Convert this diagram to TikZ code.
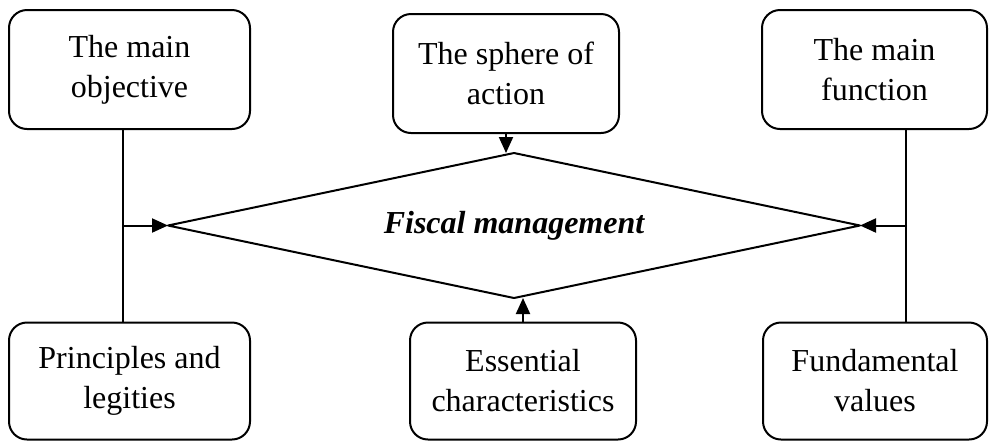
\documentclass[tikz,border=0pt]{standalone}
\usepackage{fontspec}
\setmainfont{Liberation Serif}
\usetikzlibrary{arrows.meta,shapes.geometric}

\begin{document}
\begin{tikzpicture}[line cap=round,line join=round,>={Triangle[length=8pt,width=7pt]},x=0.5pt,y=-0.5pt,
  rbox/.style={draw,line width=1.pt,rounded corners=9pt,align=center,inner sep=0pt,font=\fontsize{16}{20}\selectfont}]
\useasboundingbox (0,0) rectangle (989,441);
\node[rbox,minimum width=120.5pt,minimum height=59.5pt] (obj) at (129.5,69.5) {The main\\objective};
\node[rbox,minimum width=113pt,minimum height=59.5pt] (sphere) at (506,73.5) {The sphere of\\action};
\node[rbox,minimum width=112.5pt,minimum height=59.5pt] (func) at (874.5,69.5) {The main\\function};
\node[rbox,minimum width=120.5pt,minimum height=58.5pt] (princ) at (129.5,381) {Principles and\\legities};
\node[rbox,minimum width=113pt,minimum height=58.5pt] (essent) at (523,381) {Essential\\characteristics};
\node[rbox,minimum width=112pt,minimum height=58.5pt] (fund) at (875,381) {Fundamental\\values};
\node[draw,line width=1.pt,shape=diamond,aspect=4.77,minimum width=346pt,minimum height=72.5pt,inner sep=0pt,outer sep=0pt,font=\fontsize{16}{20}\selectfont\bfseries\itshape] (fiscal) at (514,225.5) {Fiscal management};
\coordinate (jl) at (123,225.5);
\coordinate (jr) at (906,225.5);
% left side
\draw [line width=1.pt] (jl |- obj.south)-- (jl |- princ.north);
\draw [->,line width=1.pt] (jl)-- (fiscal.west);
% right side
\draw [line width=1.pt] (jr |- func.south)-- (jr |- fund.north);
\draw [->,line width=1.pt] (jr)-- (fiscal.east);
% middle
\draw [->,line width=1.pt] (sphere.south)-- (sphere.south |- fiscal.north);
\draw [->,line width=1.pt] (essent.north)-- (essent.north |- fiscal.south);
\end{tikzpicture}
\end{document}
